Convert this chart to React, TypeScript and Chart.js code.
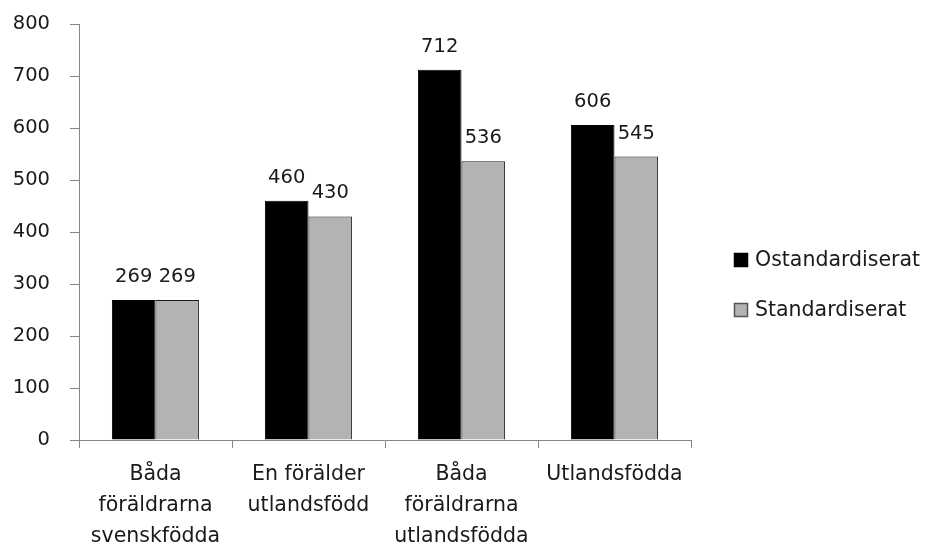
import React, { useEffect, useRef } from "react";
import { Chart, registerables } from "chart.js";

Chart.register(...registerables);

const categories: string[][] = [
  ["Båda", "föräldrarna", "svenskfödda"],
  ["En förälder", "utlandsfödd"],
  ["Båda", "föräldrarna", "utlandsfödda"],
  ["Utlandsfödda"],
];
const seriesNames = ["Ostandardiserat", "Standardiserat"];
const ostandardiserat = [269, 460, 712, 606];
const standardiserat = [269, 430, 536, 545];
const yMin = 0;
const yMax = 800;
const yStep = 100;

const FONT = '"DejaVu Sans", sans-serif';
const NUM_SIZE = 19.5;
const TEXT_SIZE = 20.5;
const TEXT_COLOR = "#1a1a1a";
const AXIS_COLOR = "#868686";

const valueLabels = {
  id: "valueLabels",
  afterDatasetsDraw(chart: any) {
    const ctx = chart.ctx;
    ctx.save();
    ctx.font = `${NUM_SIZE}px ${FONT}`;
    ctx.fillStyle = TEXT_COLOR;
    ctx.textAlign = "center";
    ctx.textBaseline = "alphabetic";
    chart.data.datasets.forEach((ds: any, i: number) => {
      chart.getDatasetMeta(i).data.forEach((bar: any, j: number) => {
        ctx.fillText(String(ds.data[j]), bar.x, bar.y - 18);
      });
    });
    ctx.restore();
  },
};

const sideLegend = {
  id: "sideLegend",
  afterDraw(chart: any) {
    const ctx = chart.ctx;
    const area = chart.chartArea;
    const boxX = area.right + 43;
    const centerY = (area.top + chart.height) / 2 - 2;
    const rowGap = 50;
    const box = 14;
    ctx.save();
    ctx.font = `${TEXT_SIZE}px ${FONT}`;
    ctx.textAlign = "left";
    ctx.textBaseline = "middle";
    chart.data.datasets.forEach((ds: any, i: number) => {
      const cy = centerY + (i - (chart.data.datasets.length - 1) / 2) * rowGap;
      ctx.fillStyle = ds.backgroundColor;
      ctx.fillRect(boxX, cy - box / 2, box, box);
      ctx.strokeStyle = i === 0 ? "#000000" : "#555555";
      ctx.lineWidth = 1.5;
      ctx.strokeRect(boxX + 0.5, cy - box / 2 + 0.5, box - 1, box - 1);
      ctx.fillStyle = TEXT_COLOR;
      ctx.fillText(ds.label, boxX + box + 7, cy + 1);
    });
    ctx.restore();
  },
};

export default function App() {
  const ref = useRef<HTMLCanvasElement | null>(null);

  useEffect(() => {
    const canvas = ref.current;
    if (!canvas) return;

    const chart = new Chart(canvas, {
      type: "bar",
      data: {
        labels: categories,
        datasets: [
          {
            label: seriesNames[0],
            data: ostandardiserat,
            backgroundColor: "#000000",
            borderColor: "#000000",
            borderWidth: 1,
            categoryPercentage: 0.57,
            barPercentage: 1,
          },
          {
            label: seriesNames[1],
            data: standardiserat,
            backgroundColor: "#b3b3b3",
            borderColor: "#1a1a1a",
            borderWidth: 1,
            categoryPercentage: 0.57,
            barPercentage: 1,
          },
        ],
      },
      options: {
        responsive: false,
        animation: false,
        layout: { padding: { top: 24, right: 239, bottom: 0, left: 0 } },
        scales: {
          x: {
            grid: {
              display: true,
              drawOnChartArea: false,
              drawTicks: true,
              tickLength: 8,
              color: AXIS_COLOR,
              offset: true,
            },
            border: { display: true, color: AXIS_COLOR, width: 1 },
            ticks: {
              color: TEXT_COLOR,
              padding: 11,
              maxRotation: 0,
              autoSkip: false,
              font: { family: FONT, size: TEXT_SIZE, lineHeight: 31 / TEXT_SIZE },
            },
            afterFit: (scale: any) => {
              scale.height = 110;
              scale.paddingLeft = 0;
              scale.paddingRight = 0;
            },
          },
          y: {
            min: yMin,
            max: yMax,
            grid: {
              display: true,
              drawOnChartArea: false,
              drawTicks: true,
              tickLength: 9,
              color: AXIS_COLOR,
            },
            border: { display: true, color: AXIS_COLOR, width: 1 },
            ticks: {
              stepSize: yStep,
              color: TEXT_COLOR,
              padding: 20,
              font: { family: FONT, size: NUM_SIZE },
            },
            afterFit: (scale: any) => {
              scale.width = 79;
              scale.paddingTop = 0;
              scale.paddingBottom = 0;
            },
          },
        },
        plugins: {
          legend: { display: false },
          tooltip: { enabled: false },
        },
      },
      plugins: [valueLabels, sideLegend],
    } as any);

    return () => chart.destroy();
  }, []);

  return (
    <div style={{ position: "fixed", left: 0, top: 0, width: 930, height: 550, background: "#ffffff" }}>
      <canvas ref={ref} width={930} height={550} style={{ display: "block", width: 930, height: 550 }} />
    </div>
  );
}
